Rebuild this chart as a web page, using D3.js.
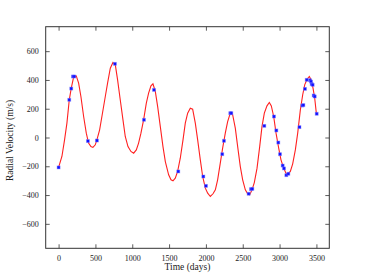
<!DOCTYPE html>
<html><head><meta charset="utf-8">
<script src="https://cdn.jsdelivr.net/npm/d3@7"></script>
<style>body{margin:0;background:#fff}svg{display:block}</style>
</head><body>
<svg id="c" width="366" height="276"></svg>
<script>
// model curve (days, m/s)
const curveT = [0,45,81,113,145,172,204,240,272,303,340,376,407,439,466,498,520,557,588,634,665,702,738,770,801,837,874,905,942,982,1019,1055,1086,1118,1154,1191,1222,1254,1281,1313,1345,1381,1417,1449,1494,1526,1553,1584,1616,1652,1689,1720,1752,1788,1820,1856,1888,1924,1956,1992,2024,2060,2096,2128,2159,2195,2227,2263,2295,2331,2363,2399,2431,2467,2499,2535,2567,2594,2626,2657,2694,2730,2761,2793,2829,2861,2888,2920,2952,2988,3019,3056,3087,3114,3146,3178,3214,3246,3282,3314,3341,3373,3404,3427,3454,3477,3499];
const curveV = [-208,-132,-16,100,262,343,419,428,378,285,146,30,-39,-63,-69,-51,-16,53,146,285,378,482,521,505,401,262,123,7,-63,-97,-109,-86,-39,30,123,239,308,359,373,320,215,76,-63,-167,-259,-294,-301,-283,-236,-144,-16,100,169,204,197,100,-16,-155,-271,-352,-387,-410,-391,-364,-294,-178,-74,30,111,169,158,65,-63,-202,-294,-364,-391,-398,-364,-313,-213,-63,76,169,220,243,220,146,30,-74,-155,-213,-248,-252,-236,-183,-86,30,192,297,366,405,424,401,343,273,169];
// observations
const obsT = [0,145,172,195,213,398,520,765,1159,1295,1625,1965,2001,2222,2245,2331,2345,2580,2612,2630,2793,2924,2956,2983,3006,3042,3060,3092,3119,3270,3309,3323,3345,3368,3413,3427,3436,3449,3463,3477,3504];
const obsV = [-208,262,340,424,424,-25,-21,512,123,331,-236,-271,-336,-116,-23,169,169,-391,-359,-357,81,146,49,-35,-116,-195,-215,-262,-252,72,222,225,338,401,398,389,371,366,292,285,165];
const xTicks = [0,500,1000,1500,2000,2500,3000,3500];
const yTicks = [-600,-400,-200,0,200,400,600];

const svg = d3.select("#c");
const L=45.7, R=329.3, T=26.7, B=248.3;
const x = d3.scaleLinear().domain([-175,3675]).range([L,R]);
const y = d3.scaleLinear().domain([-770,770]).range([B,T]);
const font = "'Liberation Serif','DejaVu Serif',serif";

const line = d3.line().x((d,i)=>x(curveT[i])).y((d,i)=>y(curveV[i]));
svg.append("path").attr("d", line(curveT)).attr("fill","none")
  .attr("stroke","#ff2020").attr("stroke-width",1.1);

svg.append("g").selectAll("rect").data(obsT).join("rect")
  .attr("x",(d)=>x(d)-1.5).attr("y",(d,i)=>y(obsV[i])-1.5)
  .attr("width",3).attr("height",3)
  .attr("fill","#1010ff").attr("stroke","#8080ff").attr("stroke-width",0.8).attr("stroke-opacity",0.55);

// axes
const tickLen = 4;
const gx = svg.append("g").attr("transform",`translate(0,${B})`)
  .call(d3.axisBottom(x).tickValues(xTicks).tickSizeInner(-tickLen).tickSizeOuter(0).tickPadding(7).tickFormat(d3.format("d")));
const gxt = svg.append("g").attr("transform",`translate(0,${T})`)
  .call(d3.axisTop(x).tickValues(xTicks).tickSizeInner(-tickLen).tickSizeOuter(0).tickFormat(""));
const gy = svg.append("g").attr("transform",`translate(${L},0)`)
  .call(d3.axisLeft(y).tickValues(yTicks).tickSizeInner(-tickLen).tickSizeOuter(0).tickPadding(7).tickFormat(d=>d<0?"\u2212"+Math.abs(d):String(d)));
const gyr = svg.append("g").attr("transform",`translate(${R},0)`)
  .call(d3.axisRight(y).tickValues(yTicks).tickSizeInner(-tickLen).tickSizeOuter(0).tickFormat(""));
[gx,gxt,gy,gyr].forEach(g=>{
  g.select(".domain").remove();
  g.selectAll("line").attr("stroke","#333").attr("stroke-width",0.8);
  g.selectAll("text").attr("font-family",font).attr("font-size",8).attr("fill","#222");
});
svg.append("rect").attr("x",L).attr("y",T).attr("width",R-L).attr("height",B-T)
  .attr("fill","none").attr("stroke","#333").attr("stroke-width",1);

svg.append("text").attr("x",(L+R)/2).attr("y",270).attr("text-anchor","middle")
  .attr("font-family",font).attr("font-size",9.5).attr("fill","#222").text("Time (days)");
svg.append("text").attr("transform",`translate(12.5,${(T+B)/2+3}) rotate(-90)`).attr("text-anchor","middle")
  .attr("font-family",font).attr("font-size",9.5).attr("fill","#222").text("Radial Velocity (m/s)");
</script>
</body></html>
